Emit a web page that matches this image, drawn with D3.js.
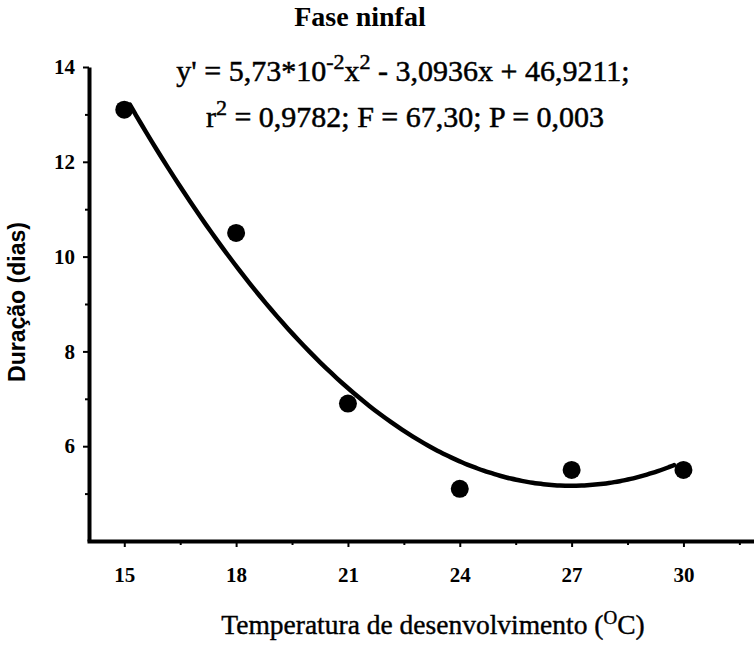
<!DOCTYPE html>
<html>
<head>
<meta charset="utf-8">
<script src="https://cdn.jsdelivr.net/npm/d3@7"></script>
<style>
  html, body { margin: 0; padding: 0; background: #fff; }
  svg { display: block; }
</style>
</head>
<body>
<svg id="chart" width="754" height="649"></svg>
<script>
// Nymph stage duration by rearing temperature
const temperatures = [15, 18, 21, 24, 27, 30];
const durations = [13.1, 10.5, 6.9, 5.1, 5.5, 5.5];

// Quadratic fit y' = c2*x^2 + c1*x + c0
const fitCoefficients = { c2: 5.73e-2, c1: -3.0936, c0: 46.9211 };
const fitRange = [15.15, 29.75];

const xTicks = [15, 18, 21, 24, 27, 30];
const xMinorTicks = [16.5, 19.5, 22.5, 25.5, 28.5, 31.5];
const yTicks = [6, 8, 10, 12, 14];
const yMinorTicks = [5, 7, 9, 11, 13];

const serif = "'Liberation Serif', 'Times New Roman', Times, serif";
const sans = "'Liberation Sans', Arial, Helvetica, sans-serif";

const svg = d3.select("#chart");

const x = d3.scaleLinear().domain([14, 32]).range([87, 758]);
const y = d3.scaleLinear().domain([4, 14]).range([541, 67]);

// Minor ticks (unlabelled)
const xMinorAxis = d3.axisBottom(x).tickValues(xMinorTicks).tickSize(4).tickFormat("");
svg.append("g").attr("transform", "translate(0,541)").call(xMinorAxis)
  .call(g => g.select(".domain").remove())
  .call(g => g.selectAll("line").attr("stroke", "#000").attr("stroke-width", 2));

const yMinorAxis = d3.axisLeft(y).tickValues(yMinorTicks).tickSize(4).tickFormat("");
svg.append("g").attr("transform", "translate(89,0)").call(yMinorAxis)
  .call(g => g.select(".domain").remove())
  .call(g => g.selectAll("line").attr("stroke", "#000").attr("stroke-width", 2));

// Major axes
const xAxis = d3.axisBottom(x).tickValues(xTicks).tickSize(6).tickSizeOuter(0).tickPadding(20);
svg.append("g").attr("transform", "translate(0,541)").call(xAxis)
  .call(g => g.select(".domain").attr("stroke", "#000").attr("stroke-width", 4))
  .call(g => g.selectAll(".tick line").attr("stroke", "#000").attr("stroke-width", 2))
  .call(g => g.selectAll(".tick text")
    .attr("fill", "#000").style("font-family", serif)
    .style("font-size", "21px").style("font-weight", "bold"));

const yAxis = d3.axisLeft(y).tickValues(yTicks).tickSize(6).tickSizeOuter(0).tickPadding(8);
svg.append("g").attr("transform", "translate(89,0)").call(yAxis)
  .call(g => g.select(".domain").attr("stroke", "#000").attr("stroke-width", 4))
  .call(g => g.selectAll(".tick line").attr("stroke", "#000").attr("stroke-width", 2))
  .call(g => g.selectAll(".tick text")
    .attr("fill", "#000").style("font-family", serif)
    .style("font-size", "21px").style("font-weight", "bold"));

// Fitted curve
const fit = t => fitCoefficients.c2 * t * t + fitCoefficients.c1 * t + fitCoefficients.c0;
const curveXs = d3.range(0, 101).map(i => fitRange[0] + (fitRange[1] - fitRange[0]) * i / 100);
svg.append("path")
  .datum(curveXs)
  .attr("fill", "none")
  .attr("stroke", "#000")
  .attr("stroke-width", 4.5)
  .attr("stroke-linecap", "round")
  .attr("d", d3.line().x(d => x(d)).y(d => y(fit(d))).curve(d3.curveBasis));

// Observed means
svg.append("g").selectAll("circle")
  .data(temperatures.map((t, i) => ({ t, d: durations[i] })))
  .join("circle")
  .attr("cx", d => x(d.t))
  .attr("cy", d => y(d.d))
  .attr("r", 9)
  .attr("fill", "#000");

// Title
svg.append("text")
  .attr("x", 360).attr("y", 26)
  .attr("text-anchor", "middle")
  .style("font-family", serif).style("font-size", "28px").style("font-weight", "bold")
  .text("Fase ninfal");

// Regression equation
const eqStyle = sel => sel
  .attr("text-anchor", "middle")
  .attr("fill", "#000").attr("stroke", "#000").attr("stroke-width", 0.5)
  .style("font-family", serif).style("font-size", "30px");

const eq1 = svg.append("text").attr("x", 403).attr("y", 81).call(eqStyle);
eq1.append("tspan").text("y' = 5,73*10");
eq1.append("tspan").attr("dy", -12).style("font-size", "22px").text("-2");
eq1.append("tspan").attr("dy", 12).text("x");
eq1.append("tspan").attr("dy", -12).style("font-size", "22px").text("2");
eq1.append("tspan").attr("dy", 12).text(" - 3,0936x + 46,9211;");

const eq2 = svg.append("text").attr("x", 405).attr("y", 127).call(eqStyle);
eq2.append("tspan").text("r");
eq2.append("tspan").attr("dy", -12).style("font-size", "22px").text("2");
eq2.append("tspan").attr("dy", 12).text(" = 0,9782; F = 67,30; P = 0,003");

// Axis titles
const xt = svg.append("text")
  .attr("x", 433).attr("y", 634)
  .attr("text-anchor", "middle")
  .attr("fill", "#000").attr("stroke", "#000").attr("stroke-width", 0.4)
  .style("font-family", serif).style("font-size", "27.5px");
xt.append("tspan").text("Temperatura de desenvolvimento (");
xt.append("tspan").attr("dy", -10).style("font-size", "19px").text("O");
xt.append("tspan").attr("dy", 10).text("C)");

svg.append("text")
  .attr("transform", "translate(25,302) rotate(-90)")
  .attr("text-anchor", "middle")
  .attr("textLength", 160).attr("lengthAdjust", "spacingAndGlyphs")
  .style("font-family", sans).style("font-size", "23px").style("font-weight", "bold")
  .text("Duração (dias)");
</script>
</body>
</html>
